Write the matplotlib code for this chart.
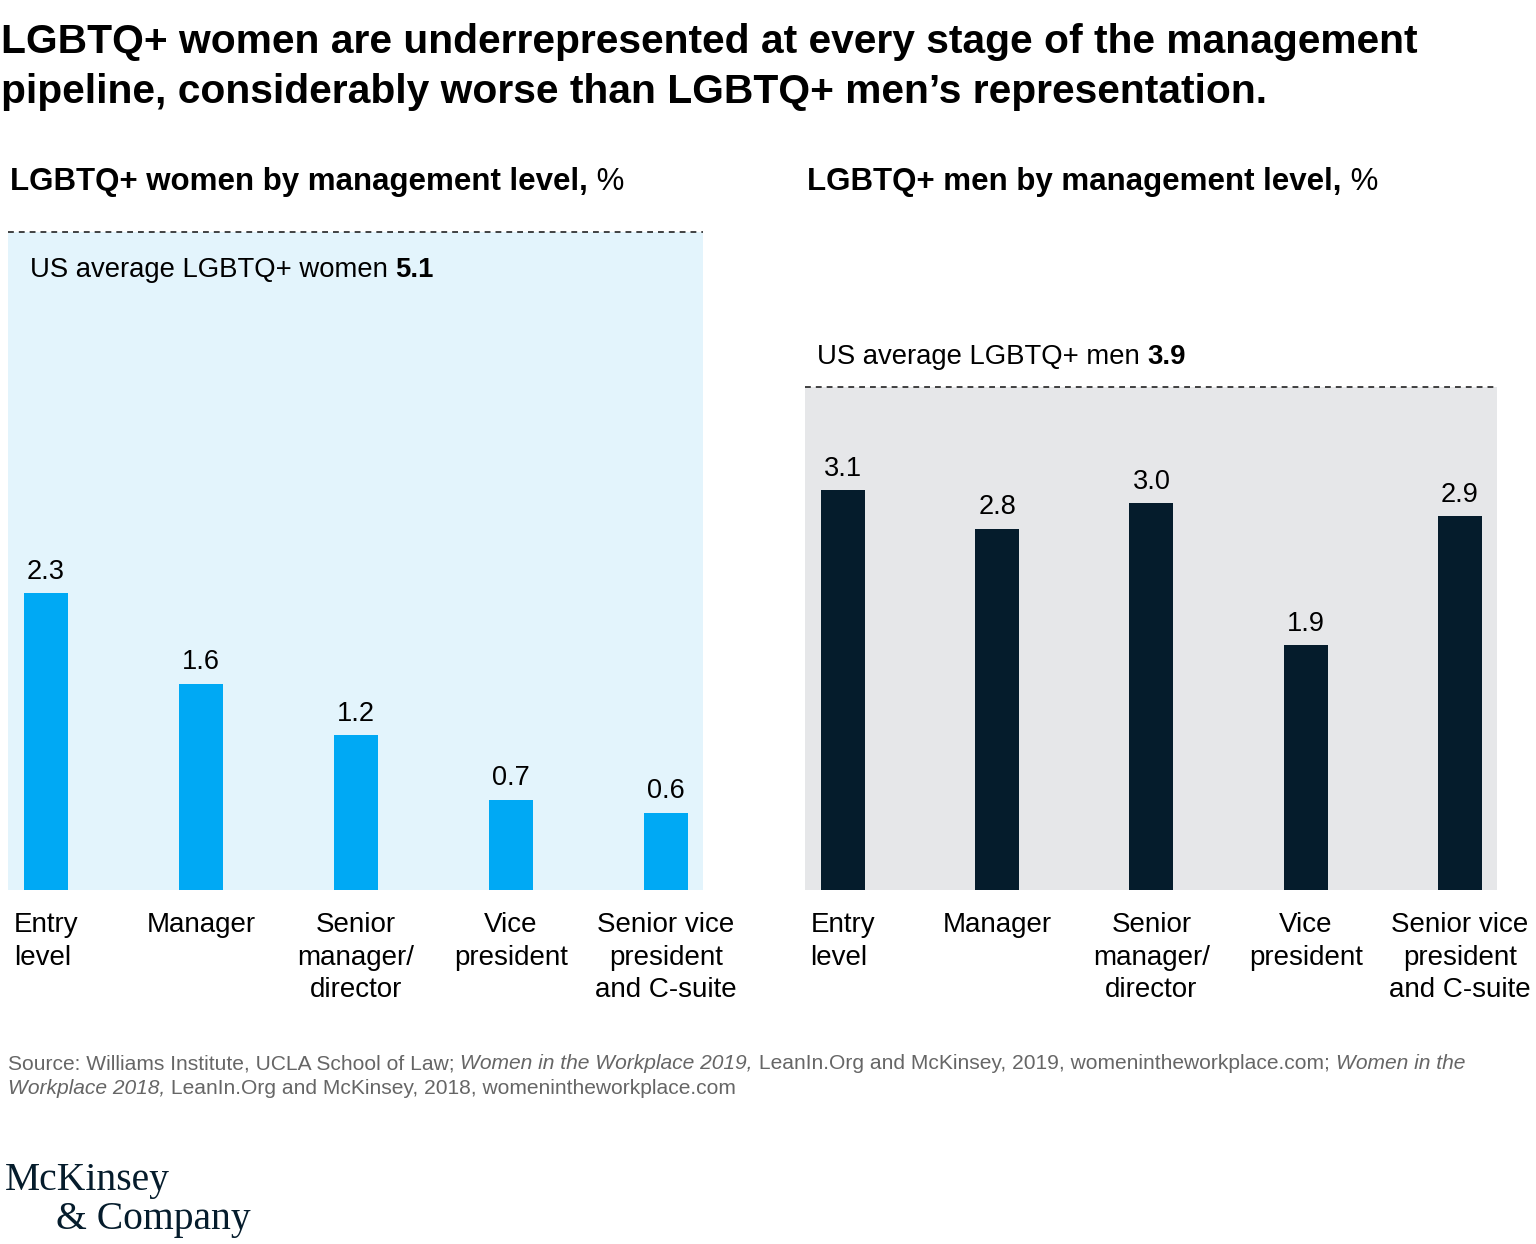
import matplotlib.pyplot as plt

plt.rcParams['font.family'] = ['Liberation Sans', 'DejaVu Sans']

# data
levels = ['Entry\nlevel', 'Manager', 'Senior\nmanager/\ndirector', 'Vice\npresident',
          'Senior vice\npresident\nand C-suite']
women = [2.3, 1.6, 1.2, 0.7, 0.6]
men = [3.1, 2.8, 3.0, 1.9, 2.9]
avg_women = 5.1
avg_men = 3.9

W, H = 1536, 1244
fig = plt.figure(figsize=(W / 100, H / 100), dpi=100)
renderer = fig.canvas.get_renderer()


def runs(x, y, parts, size, color='#000000'):
    # write text pieces one after another on a line, x/y in pixels from top-left
    xx = x
    for txt, weight, style in parts:
        t = fig.text(xx / W, 1 - y / H, txt, fontsize=size, fontweight=weight,
                     fontstyle=style, color=color, va='baseline', ha='left')
        bb = t.get_window_extent(renderer)
        xx += bb.width


# title
fig.text(1 / W, 1 - 53 / H, 'LGBTQ+ women are underrepresented at every stage of the management',
         fontsize=29.3, fontweight='bold', va='baseline')
fig.text(1 / W, 1 - 103 / H, 'pipeline, considerably worse than LGBTQ+ men\u2019s representation.',
         fontsize=29.3, fontweight='bold', va='baseline')

runs(10, 190, [('LGBTQ+ women by management level,', 'bold', 'normal'), (' %', 'normal', 'normal')], 22.5)
runs(807, 190, [('LGBTQ+ men by management level,', 'bold', 'normal'), (' %', 'normal', 'normal')], 22.5)


def panel(left, width, vals, avg, bar_col, bg_col):
    ax = fig.add_axes([left / W, 1 - 890 / H, width / W, (890 - 232) / H])
    x = range(len(vals))
    ax.set_xlim(-0.245, 4.24)
    ax.set_ylim(0, avg_women)
    ax.axhspan(0, avg, color=bg_col, zorder=0, lw=0)
    ax.axhline(avg, color='#222222', lw=1.2, ls=(0, (3.5, 3)), zorder=2, clip_on=False)
    ax.bar(x, vals, width=0.284, color=bar_col, zorder=3)
    for i, v in enumerate(vals):
        ax.annotate(f'{v:.1f}', (i, v), xytext=(0, 6), textcoords='offset points',
                    ha='center', va='bottom', fontsize=19.5, color='#000000')
    for i, lab in enumerate(levels):
        ax.annotate(lab, (i, 0), xytext=(0, -16), textcoords='offset points',
                    ha='center', va='top', fontsize=20, linespacing=1.33,
                    ma='left' if i == 0 else 'center', annotation_clip=False)
    ax.axis('off')
    return ax


axl = panel(8, 695, women, avg_women, '#00A9F4', '#E3F4FC')
axr = panel(805, 692, men, avg_men, '#051C2C', '#E6E7E9')

runs(30, 277, [('US average LGBTQ+ women ', 'normal', 'normal'), ('5.1', 'bold', 'normal')], 19.8)
runs(817, 364, [('US average LGBTQ+ men ', 'normal', 'normal'), ('3.9', 'bold', 'normal')], 19.8)

# source
gray = '#666666'
runs(8, 1069, [('Source: Williams Institute, UCLA School of Law; ', 'normal', 'normal'),
               ('Women in the Workplace 2019,', 'normal', 'italic'),
               (' LeanIn.Org and McKinsey, 2019, womenintheworkplace.com; ', 'normal', 'normal'),
               ('Women in the', 'normal', 'italic')], 15.1, gray)
runs(8, 1094, [('Workplace 2018,', 'normal', 'italic'),
               (' LeanIn.Org and McKinsey, 2018, womenintheworkplace.com', 'normal', 'normal')], 15.1, gray)

# logo
fig.text(5 / W, 1 - 1190 / H, 'McKinsey', fontsize=28.5, family='Liberation Serif',
         color='#051C2C', va='baseline')
fig.text(56 / W, 1 - 1229 / H, '& Company', fontsize=28.5, family='Liberation Serif',
         color='#051C2C', va='baseline')

fig.savefig('out.png', dpi=100)
